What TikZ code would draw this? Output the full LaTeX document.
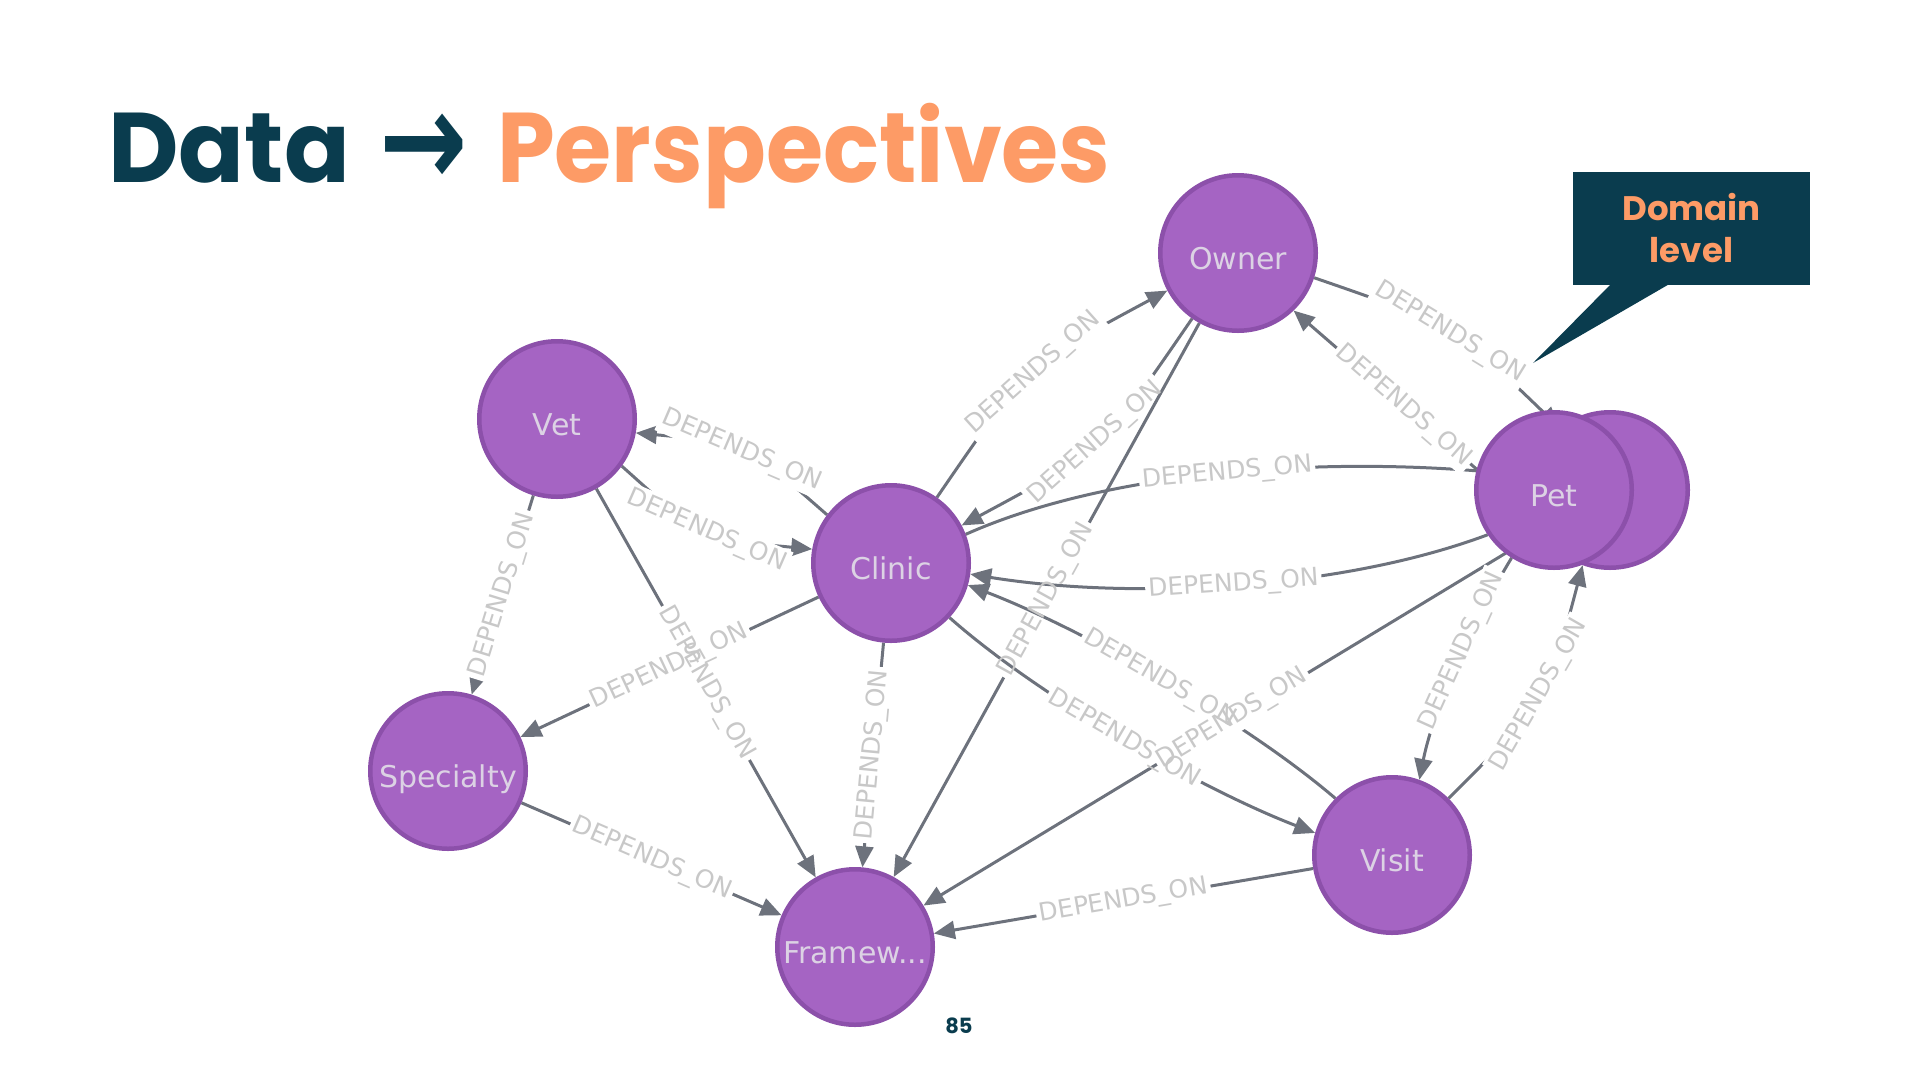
\documentclass[tikz,border=0pt]{standalone}
\usepackage{fontspec}
\setmainfont{DejaVu Sans}
\newfontfamily\titlefont{Poppins}
\newfontfamily\arrowfont{DejaVu Sans}
\usetikzlibrary{arrows.meta}
\definecolor{tealdark}{HTML}{0A3C4E}
\definecolor{orangesoft}{HTML}{FD9B66}
\definecolor{nodefill}{HTML}{A564C3}
\definecolor{nodeline}{HTML}{8C50AA}
\definecolor{nodetext}{HTML}{DCD2E4}
\definecolor{relline}{HTML}{6D727C}
\definecolor{reltext}{HTML}{C8C8C8}
\pgfdeclarelayer{background}
\pgfsetlayers{background,main}

% one DEPENDS_ON relationship: line with a gap below, text on top
\newcommand{\deprel}[2][]{%
    \begin{pgfonlayer}{background}
        \draw[rel] #2 node[rel gap, #1] {\phantom{DEPENDS\_ON}};
    \end{pgfonlayer}
    \path #2 node[rel label, #1] {DEPENDS\_ON};}

\begin{document}
\begin{tikzpicture}[x=1pt, y=-1pt,
    entity/.style={circle, draw=nodeline, line width=4.5pt, fill=nodefill, minimum size=155.5pt,
        inner sep=0pt, text height=32pt, text depth=0pt, text=nodetext, font=\fontsize{30}{36}\selectfont},
    rel/.style={draw=relline, line width=3pt, -{Triangle[length=21pt, width=18pt]}},
    rel gap/.style={midway, sloped, fill=white, inner sep=3pt, font=\fontsize{25}{30}\selectfont},
    rel label/.style={midway, sloped, inner sep=3pt, text=reltext, font=\fontsize{25}{30}\selectfont},
    heading/.style={anchor=base west, inner sep=0pt, font=\titlefont\bfseries\fontsize{99}{110}\selectfont}]
\useasboundingbox (0,0) rectangle (1920,1080);

% title
\node[heading, text=tealdark] (title data) at (108,182) {\scalebox{0.98}[1]{Data}};
\node[inner sep=0pt, text=tealdark, font=\arrowfont\bfseries\fontsize{96}{110}\selectfont] (title arrow) at (424,150) {\scalebox{1.1}[1.4]{→}};
\node[heading, text=orangesoft] (title persp) at (497,182) {\scalebox{0.935}[1]{Perspectives}};

% callout
\node[fill=tealdark, minimum width=237pt, minimum height=113pt, text=orangesoft, align=center,
    font=\titlefont\bfseries\fontsize{34}{42}\selectfont] (callout) at (1691.5,228.5) {Domain\\level};
\coordinate (callout tip) at (1533,363);
\fill[tealdark] ([xshift=39pt, yshift=2pt]callout.south west) -- (callout tip)
    -- ([xshift=98pt, yshift=2pt]callout.south west) -- cycle;

% entities
\node[entity] (owner) at (1238,253) {Owner};
\node[entity] (vet) at (557,419) {Vet};
\node[entity] (clinic) at (891,563) {Clinic};
\node[entity] (specialty) at (448,771) {Specialty};
\node[entity] (framework) at (855,947) {Framew...};
\node[entity] (visit) at (1392,855) {Visit};
\node[entity] (pet2) at (1610,490) {};
\node[entity] (pet) at (1554,490) {Pet};

% relationships
\deprel{(vet) -- (specialty)}
\deprel{(vet) -- (framework)}
\deprel{(clinic.143.4) .. controls (745,443) .. (vet.-10)}
\deprel{(vet.-36.6) .. controls (703,539) .. (clinic.170)}
\deprel{(clinic) -- (specialty)}
\deprel{(clinic) -- (framework)}
\deprel{(specialty) -- (framework)}
\deprel{(clinic.55.3) .. controls (1027,366) .. (owner.208.3)}
\deprel{(owner.235.3) .. controls (1102,450) .. (clinic.28.3)}
\deprel{(owner) -- (framework)}
\deprel{(clinic.21) .. controls (1110,470) and (1330,455) .. (pet2.170)}
\deprel{(pet.214) .. controls (1340,590) and (1130,600) .. (clinic.-8)}
\deprel{(clinic.-43.5) .. controls (1039,697) and (1203,790) .. (visit.164.4)}
\deprel{(visit.135.5) .. controls (1244,720) and (1080,628) .. (clinic.-16.5)}
\deprel{(pet2) -- (framework)}
\deprel{(visit) -- (framework)}
\deprel{(owner.-18.4) .. controls (1454,326) .. (pet2.129)}
\deprel[pos=0.4]{(pet.165) -- (owner.-46)}
\deprel[pos=0.38]{(pet.-122) .. controls (1460,643) and (1431,721) .. (visit.70)}
\deprel{(visit.45) .. controls (1547,700) .. (pet2.-110)}

% page number
\node[font=\titlefont\bfseries\fontsize{21}{24}\selectfont, text=tealdark] (page no) at (959,1026) {85};
\end{tikzpicture}
\end{document}
